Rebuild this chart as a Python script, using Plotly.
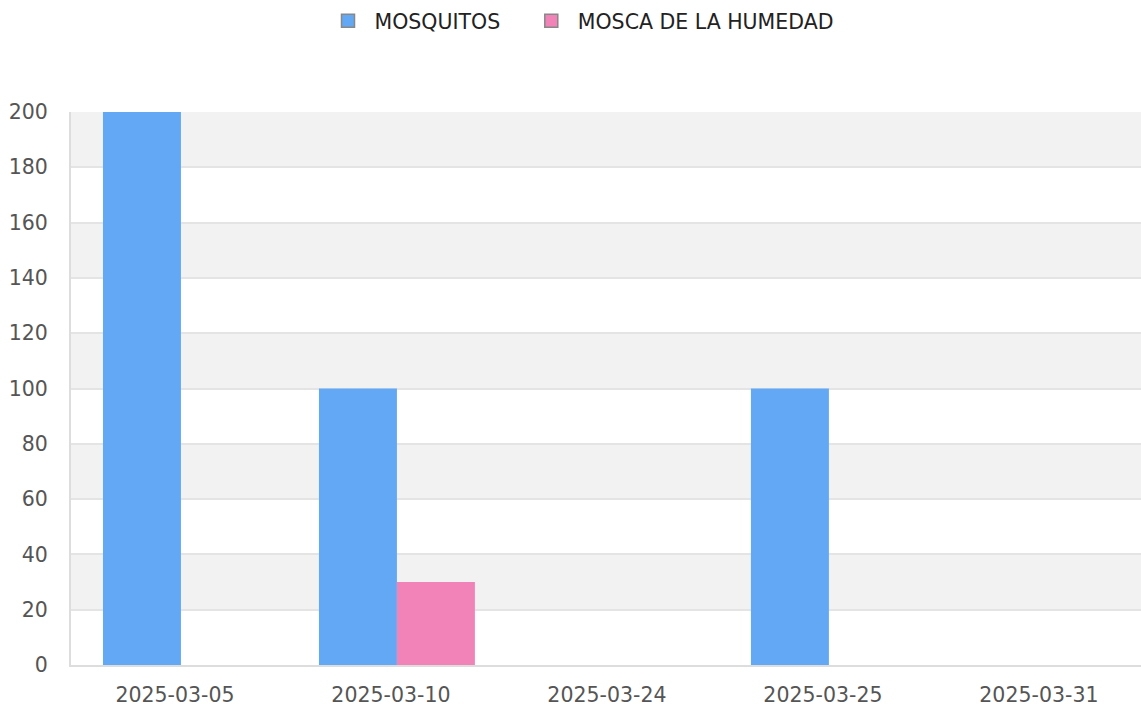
import plotly.graph_objects as go

categories = ["2025-03-05", "2025-03-10", "2025-03-24", "2025-03-25", "2025-03-31"]
mosquitos = [200, 100, 0, 100, 0]
mosca_humedad = [0, 30, 0, 0, 0]
series_names = ["MOSQUITOS", "MOSCA DE LA HUMEDAD"]
y_ticks = [0, 20, 40, 60, 80, 100, 120, 140, 160, 180, 200]

BLUE = "#62A8F4"
PINK = "#F283B9"
FONT = "DejaVu Sans"
NB = "\u00a0"

fig = go.Figure()
legend_labels = [NB + series_names[0] + NB * 4, NB + series_names[1]]
for name, lab, vals, col in [(series_names[0], legend_labels[0], mosquitos, BLUE),
                             (series_names[1], legend_labels[1], mosca_humedad, PINK)]:
    fig.add_trace(go.Bar(x=categories, y=vals, name=name, marker_color=col,
                         marker_line_width=0, showlegend=False))
    fig.add_trace(go.Scatter(x=[None], y=[None], mode="markers", name=lab,
                             marker=dict(symbol="square", size=13, color=col,
                                         line=dict(color="#888888", width=1.5))))

# alternating background bands
shapes = []
for i in range(1, len(y_ticks) - 1, 2):
    shapes.append(dict(type="rect", xref="paper", yref="y", x0=0, x1=1,
                       y0=y_ticks[i], y1=y_ticks[i + 1], fillcolor="#F2F2F2",
                       line_width=0, layer="below"))

fig.update_layout(
    width=1141, height=706,
    margin=dict(l=71, r=0, t=112, b=41),
    paper_bgcolor="white", plot_bgcolor="white",
    font=dict(family=FONT, size=20, color="#555555"),
    barmode="group", bargap=0.278, bargroupgap=0,
    shapes=shapes,
    legend=dict(orientation="h", xref="container", yref="container",
                x=0.5 + 13 / 1141, xanchor="center", y=1 - 1 / 706, yanchor="top",
                font=dict(size=20.5, color="#222222"), itemclick=False),
    xaxis=dict(type="category", range=[-0.509, 4.445], showgrid=False,
               showline=True, linecolor="#DDDDDD", linewidth=2,
               ticks="", ticklabelshift=-6, ticklabelstandoff=10,
               tickfont=dict(size=20.5, color="#555555")),
    yaxis=dict(range=[0, 200], tickvals=y_ticks, showgrid=True,
               gridcolor="#E4E4E4", gridwidth=2, zeroline=False,
               showline=True, linecolor="#DDDDDD", linewidth=2,
               ticks="", ticklabelstandoff=17,
               tickfont=dict(size=20.5, color="#555555")),
)

fig.write_html("out.html", config={"displayModeBar": False},
               post_script="document.body.style.margin='0';")
